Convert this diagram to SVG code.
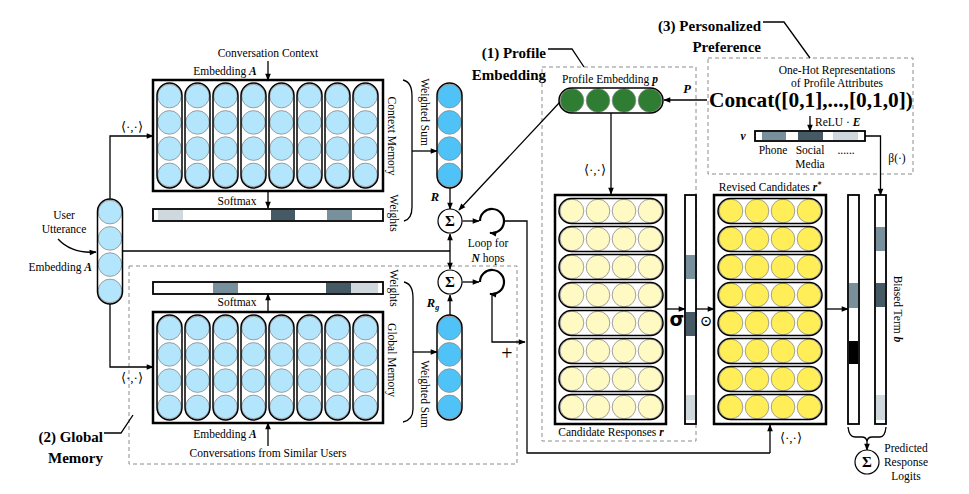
<svg xmlns="http://www.w3.org/2000/svg" width="969" height="494" viewBox="0 0 969 494" font-family="'Liberation Serif', 'DejaVu Serif', serif">
<style>
.t{font-family:"Liberation Serif","DejaVu Serif",serif;font-size:11.5px;fill:#000}
.b{font-weight:bold}
.m{font-style:italic;font-weight:bold}
.ln{fill:none;stroke:#000;stroke-width:1.3}
.ar{fill:none;stroke:#000;stroke-width:1.3;marker-end:url(#ah)}
.box{fill:#fff;stroke:#000;stroke-width:2.5}
.dash{fill:none;stroke:#8c8c8c;stroke-width:1;stroke-dasharray:4 3}
.bar{fill:#fff;stroke:#000;stroke-width:1.8}
.loop{fill:none;stroke:#000;stroke-width:2.2;marker-end:url(#ah)}
.sig{fill:#fff;stroke:#000;stroke-width:1.2}
</style>
<defs>
<marker id="ah" viewBox="0 0 10 10" refX="9" refY="5" markerWidth="8" markerHeight="7" orient="auto-start-reverse" markerUnits="userSpaceOnUse"><path d="M0,1 L10,5 L0,9 z" fill="#000"/></marker>
<g id="vcol">
<circle cx="12.5" cy="13.1" r="11.8" stroke="#8a8a8a" stroke-width="0.8"/>
<circle cx="12.5" cy="39.4" r="11.8" stroke="#8a8a8a" stroke-width="0.8"/>
<circle cx="12.5" cy="65.6" r="11.8" stroke="#8a8a8a" stroke-width="0.8"/>
<circle cx="12.5" cy="91.9" r="11.8" stroke="#8a8a8a" stroke-width="0.8"/>
<rect x="0" y="0" width="25" height="105" rx="12.5" fill="none" stroke="#000" stroke-width="1.5"/>
</g>
<g id="hrow">
<circle cx="13" cy="12.5" r="11.8" stroke="#8a8a8a" stroke-width="0.8"/>
<circle cx="39" cy="12.5" r="11.8" stroke="#8a8a8a" stroke-width="0.8"/>
<circle cx="65" cy="12.5" r="11.8" stroke="#8a8a8a" stroke-width="0.8"/>
<circle cx="91" cy="12.5" r="11.8" stroke="#8a8a8a" stroke-width="0.8"/>
<rect x="0" y="0" width="104" height="25" rx="12.5" fill="none" stroke="#000" stroke-width="1.5"/>
</g>
</defs>
<rect width="969" height="494" fill="#fff"/>

<!-- dashed region boxes -->
<g id="regions">
<rect class="dash" x="129" y="266" width="388" height="198"/>
<rect class="dash" x="542" y="67" width="154" height="374"/>
<rect class="dash" x="708" y="58" width="205" height="116"/>
</g>

<!-- connectors -->
<g id="connectors">
<path class="ar" d="M268,61 L268,80"/>
<path class="ar" d="M268,191 L268,208"/>
<path class="ar" d="M268,312 L268,294"/>
<path class="ar" d="M268,446 L268,423"/>
<path class="ar" d="M110,199 L110,136 L153,136"/>
<path class="ar" d="M110,304 L110,367 L153,367"/>
<path class="ln" d="M122,251 L450,251"/>
<path class="ar" d="M58,239 Q72,254 96,252"/>
<path class="ln" d="M403,80 Q412,82 412,96 L412,207 Q412,219 404,221"/>
<path class="ln" d="M404,282 Q413,284 413,298 L413,409 Q413,420 403,422"/>
<path class="ar" d="M412,151 L437,151"/>
<path class="ar" d="M413,352 L437,352"/>
<path class="ar" d="M450,188 L450,209"/>
<path class="ar" d="M450,315 L450,295"/>
<path class="ar" d="M450,241 L450,234"/>
<path class="ln" d="M450,241 L450,262"/>
<path class="ar" d="M450,262 L450,269"/>
<path class="ar" d="M560,102 L459,210"/>
<path class="ar" d="M462.5,221 L479,221"/>
<path class="ar" d="M462.5,282 L479,282"/>
<path class="loop" d="M480,221 A12,12 0 1 1 490,232.8"/>
<path class="loop" d="M480,282 A12,12 0 1 1 490,293.8"/>
<path class="ln" d="M504,221 L527,221 L527,453 L770,453"/>
<path class="ar" d="M770,453 L770,425"/>
<path class="ar" d="M492,294 L492,342 L525,342"/>
<path class="ar" d="M707,100 L664,100"/>
<path class="ar" d="M611,113 L611,194"/>
<path class="ar" d="M810,116 L810,131"/>
<path class="ar" d="M865,136 L880.5,136 L880.5,195"/>
<path class="ar" d="M666,309 L685,309"/>
<path class="ar" d="M696,309 L714,309"/>
<path class="ar" d="M826,309 L848,309"/>
<path class="ln" d="M848,427 Q849,437 855,437 L862,437 Q866,437 867,441 Q868,437 872,437 L880,437 Q885,437 886,427"/>
<path class="ar" d="M867,440 L867,450"/>
<path class="ln" d="M548,49 L572,49 L584,67"/>
<path class="ln" d="M763,22 L784,22 L810,58"/>
<path class="ln" d="M104,433 L121,433 L133,415"/>
</g>

<!-- context memory -->
<g id="context-memory">
<text class="t" x="268" y="57" text-anchor="middle">Conversation Context</text>
<text class="t" x="225" y="75" text-anchor="middle">Embedding <tspan class="m">A</tspan></text>
<rect class="box" x="153" y="80" width="230" height="111"/>
<use href="#vcol" x="157" y="83" fill="#b3e5fc"/>
<use href="#vcol" x="185" y="83" fill="#b3e5fc"/>
<use href="#vcol" x="213" y="83" fill="#b3e5fc"/>
<use href="#vcol" x="241" y="83" fill="#b3e5fc"/>
<use href="#vcol" x="269" y="83" fill="#b3e5fc"/>
<use href="#vcol" x="297" y="83" fill="#b3e5fc"/>
<use href="#vcol" x="325" y="83" fill="#b3e5fc"/>
<use href="#vcol" x="353" y="83" fill="#b3e5fc"/>
<text class="t" transform="translate(388,136) rotate(90)" text-anchor="middle">Context Memory</text>
<text class="t" transform="translate(421,112) rotate(90)" text-anchor="middle">Weighted Sum</text>
<text class="t" transform="translate(390,213) rotate(90)" text-anchor="middle">Weights</text>
<text class="t" x="132" y="131" text-anchor="middle" style="font-size:13px">⟨·,·⟩</text>
</g>

<g id="context-weights">
<text class="t" x="237" y="205" text-anchor="middle">Softmax</text>
<rect class="bar" x="153" y="209" width="230" height="12"/>
<rect x="158" y="210" width="25" height="10" fill="#cfd8dc"/>
<rect x="271" y="210" width="24" height="10" fill="#455a64"/>
<rect x="327" y="210" width="25" height="10" fill="#78909c"/>
</g>

<g id="context-sum">
<use href="#vcol" x="437" y="83" fill="#4fc3f7"/>
<text class="t m" x="435" y="201" text-anchor="middle" style="font-size:12.5px">R</text>
</g>

<g id="user-utterance">
<use href="#vcol" x="97.5" y="199" fill="#b3e5fc"/>
<text class="t" x="64" y="219" text-anchor="middle">User</text>
<text class="t" x="64" y="233" text-anchor="middle">Utterance</text>
<text class="t" x="92" y="271" text-anchor="end">Embedding <tspan class="m">A</tspan></text>
</g>

<g id="sum1">
<circle class="sig" cx="450" cy="221" r="12"/>
<text class="t b" x="450" y="226" text-anchor="middle" style="font-size:15px">Σ</text>
</g>
<g id="sum2">
<circle class="sig" cx="450" cy="282" r="12"/>
<text class="t b" x="450" y="287" text-anchor="middle" style="font-size:15px">Σ</text>
</g>
<g id="loop-label">
<text class="t" x="488" y="247" text-anchor="middle">Loop for</text>
<text class="t" x="488" y="262" text-anchor="middle"><tspan class="m">N</tspan> hops</text>
<text class="t" x="507" y="360" text-anchor="middle" style="font-size:20px">+</text>
</g>

<!-- global memory -->
<g id="global-weights">
<rect class="bar" x="153" y="282" width="230" height="12"/>
<rect x="213" y="283" width="25" height="10" fill="#78909c"/>
<rect x="326" y="283" width="25" height="10" fill="#455a64"/>
<rect x="351" y="283" width="27" height="10" fill="#cfd8dc"/>
<text class="t" x="237" y="306" text-anchor="middle">Softmax</text>
<text class="t" transform="translate(390,288) rotate(90)" text-anchor="middle">Weights</text>
</g>
<g id="global-memory">
<rect class="box" x="153" y="312" width="230" height="111"/>
<use href="#vcol" x="157" y="315" fill="#b3e5fc"/>
<use href="#vcol" x="185" y="315" fill="#b3e5fc"/>
<use href="#vcol" x="213" y="315" fill="#b3e5fc"/>
<use href="#vcol" x="241" y="315" fill="#b3e5fc"/>
<use href="#vcol" x="269" y="315" fill="#b3e5fc"/>
<use href="#vcol" x="297" y="315" fill="#b3e5fc"/>
<use href="#vcol" x="325" y="315" fill="#b3e5fc"/>
<use href="#vcol" x="353" y="315" fill="#b3e5fc"/>
<text class="t" transform="translate(388,360) rotate(90)" text-anchor="middle">Global Memory</text>
<text class="t" transform="translate(421,394) rotate(90)" text-anchor="middle">Weighted Sum</text>
<text class="t" x="225" y="438" text-anchor="middle">Embedding <tspan class="m">A</tspan></text>
<text class="t" x="268" y="457" text-anchor="middle">Conversations from Similar Users</text>
<text class="t" x="132" y="382" text-anchor="middle" style="font-size:13px">⟨·,·⟩</text>
</g>
<g id="global-sum">
<use href="#vcol" x="437" y="315" fill="#4fc3f7"/>
<text class="t m" x="433" y="307" text-anchor="middle" style="font-size:12.5px">R<tspan style="font-size:8px" dy="3">g</tspan></text>
</g>
<g id="label-global">
<text class="t b" x="103" y="442" text-anchor="end" style="font-size:15px">(2) Global</text>
<text class="t b" x="103" y="463" text-anchor="end" style="font-size:15px">Memory</text>
</g>

<!-- profile embedding -->
<g id="label-profile">
<text class="t b" x="546" y="58" text-anchor="end" style="font-size:15px">(1) Profile</text>
<text class="t b" x="546" y="80" text-anchor="end" style="font-size:15px">Embedding</text>
</g>
<g id="profile-embedding">
<text class="t" x="610" y="83" text-anchor="middle">Profile Embedding <tspan class="m">p</tspan></text>
<use href="#hrow" x="559" y="88" fill="#2e7d32"/>
<text class="t m" x="687" y="93" text-anchor="middle" style="font-size:12.5px">P</text>
<text class="t" x="595" y="174" text-anchor="middle" style="font-size:13px">⟨·,·⟩</text>
</g>

<g id="candidates">
<rect class="box" x="555" y="195" width="111" height="229"/>
<use href="#hrow" x="559" y="198.5" fill="#fff9c4"/>
<use href="#hrow" x="559" y="226.5" fill="#fff9c4"/>
<use href="#hrow" x="559" y="254.5" fill="#fff9c4"/>
<use href="#hrow" x="559" y="282.5" fill="#fff9c4"/>
<use href="#hrow" x="559" y="310.5" fill="#fff9c4"/>
<use href="#hrow" x="559" y="338.5" fill="#fff9c4"/>
<use href="#hrow" x="559" y="366.5" fill="#fff9c4"/>
<use href="#hrow" x="559" y="394.5" fill="#fff9c4"/>
<text class="t" x="611" y="436" text-anchor="middle">Candidate Responses <tspan class="m">r</tspan></text>
</g>

<g id="gate-bar">
<rect class="bar" x="685" y="195" width="11" height="229"/>
<rect x="686" y="255" width="9" height="24" fill="#78909c"/>
<rect x="686" y="312" width="9" height="24" fill="#455a64"/>
<rect x="686" y="395" width="9" height="25" fill="#cfd8dc"/>
<text class="t b" x="677" y="326" text-anchor="middle" style="font-size:19px;font-family:'DejaVu Sans',sans-serif">σ</text>
<text class="t" x="706" y="326" text-anchor="middle" style="font-size:15px">⊙</text>
</g>

<g id="revised-candidates">
<text class="t" x="770" y="191" text-anchor="middle">Revised Candidates <tspan class="m">r</tspan><tspan class="m" dy="-4" style="font-size:8px">*</tspan></text>
<rect class="box" x="714" y="195" width="112" height="229"/>
<use href="#hrow" x="718" y="198.5" fill="#ffee58"/>
<use href="#hrow" x="718" y="226.5" fill="#ffee58"/>
<use href="#hrow" x="718" y="254.5" fill="#ffee58"/>
<use href="#hrow" x="718" y="282.5" fill="#ffee58"/>
<use href="#hrow" x="718" y="310.5" fill="#ffee58"/>
<use href="#hrow" x="718" y="338.5" fill="#ffee58"/>
<use href="#hrow" x="718" y="366.5" fill="#ffee58"/>
<use href="#hrow" x="718" y="394.5" fill="#ffee58"/>
<text class="t" x="791" y="442" text-anchor="middle" style="font-size:13px">⟨·,·⟩</text>
</g>

<g id="score-bar">
<rect class="bar" x="848" y="195" width="11" height="229"/>
<rect x="849" y="283" width="9" height="25" fill="#78909c"/>
<rect x="849" y="341" width="9" height="23" fill="#000"/>
</g>
<g id="bias-bar">
<rect class="bar" x="875" y="195" width="11" height="229"/>
<rect x="876" y="227" width="9" height="24" fill="#78909c"/>
<rect x="876" y="283" width="9" height="24" fill="#455a64"/>
<rect x="876" y="395" width="9" height="25" fill="#cfd8dc"/>
<text class="t" transform="translate(894,309) rotate(90)" text-anchor="middle">Biased Term <tspan class="m">b</tspan></text>
<text class="t" x="897" y="162" text-anchor="middle">β(·)</text>
</g>

<g id="logits">
<circle class="sig" cx="867" cy="462" r="12"/>
<text class="t b" x="867" y="467" text-anchor="middle" style="font-size:15px">Σ</text>
<text class="t" x="906" y="452" text-anchor="middle">Predicted</text>
<text class="t" x="906" y="466" text-anchor="middle">Response</text>
<text class="t" x="906" y="480" text-anchor="middle">Logits</text>
</g>

<!-- personalized preference -->
<g id="label-preference">
<text class="t b" x="761" y="31" text-anchor="end" style="font-size:15px">(3) Personalized</text>
<text class="t b" x="761" y="52" text-anchor="end" style="font-size:15px">Preference</text>
</g>
<g id="personalized-preference">
<text class="t" x="837" y="74" text-anchor="middle">One-Hot Representations</text>
<text class="t" x="837" y="87" text-anchor="middle">of Profile Attributes</text>
<text class="t b" x="709" y="107" textLength="204" lengthAdjust="spacingAndGlyphs" style="font-size:20px">Concat([0,1],...,[0,1,0])</text>
<text class="t" x="815" y="126">ReLU · <tspan class="m">E</tspan></text>
<text class="t m" x="743" y="140" text-anchor="middle">v</text>
<rect class="bar" x="755" y="131" width="110" height="10"/>
<rect x="762" y="132" width="24" height="8" fill="#78909c"/>
<rect x="798" y="132" width="25" height="8" fill="#455a64"/>
<rect x="833" y="132" width="25" height="8" fill="#cfd8dc"/>
<text class="t" x="773" y="154" text-anchor="middle">Phone</text>
<text class="t" x="810" y="154" text-anchor="middle">Social</text>
<text class="t" x="810" y="168" text-anchor="middle">Media</text>
<text class="t" x="846" y="154" text-anchor="middle">......</text>
</g>
</svg>
